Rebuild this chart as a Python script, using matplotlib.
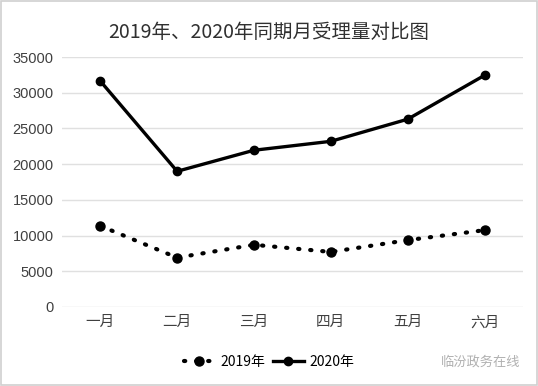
import matplotlib.pyplot as plt
from matplotlib.patches import Rectangle

plt.rcParams['font.family'] = ['Noto Sans CJK SC', 'DejaVu Sans']

months = ['一月', '二月', '三月', '四月', '五月', '六月']
values_2019 = [11350, 6900, 8700, 7700, 9350, 10750]
values_2020 = [31650, 19000, 21950, 23200, 26300, 32450]
y_ticks = [0, 5000, 10000, 15000, 20000, 25000, 30000, 35000]


def main():
    fig = plt.figure(figsize=(5.38, 3.86), dpi=100)
    ax = fig.add_axes([0.115, 0.205, 0.857, 0.647])

    x = range(len(months))
    ax.plot(x, values_2019, color='black', linestyle=(0, (0.3, 2.6)), linewidth=3,
            dash_capstyle='round', marker='o', markersize=6.5, label='2019年')
    ax.plot(x, values_2020, color='black', linestyle='-', linewidth=2.4,
            marker='o', markersize=6, label='2020年')

    ax.set_xlim(-0.5, len(months) - 0.5)
    ax.set_ylim(0, 35000)
    ax.set_yticks(y_ticks)
    ax.set_yticklabels([str(v) for v in y_ticks], fontsize=10.5, color='#404040',
                       family=['Liberation Sans', 'DejaVu Sans'])
    ax.set_xticks(list(x))
    ax.set_xticklabels(months, fontsize=10.5, color='#404040')
    ax.tick_params(length=0, pad=6)
    ax.grid(axis='y', color='#e0e0e0', linewidth=1)
    ax.set_axisbelow(True)
    for side in ['top', 'right', 'left', 'bottom']:
        ax.spines[side].set_visible(False)

    fig.text(0.5, 0.915, '2019年、2020年同期月受理量对比图', ha='center', va='center',
             fontsize=14, color='#303030', fontweight='light')

    fig.legend(loc='center', bbox_to_anchor=(0.5, 0.062), ncol=2, frameon=False,
               fontsize=10, handlelength=2.2, columnspacing=0.6, handletextpad=0.4)

    fig.text(0.968, 0.062, '临汾政务在线', ha='right', va='center', fontsize=9.5,
             color='#b0b0b0')

    fig.patches.append(Rectangle((0.002, 0.003), 0.996, 0.994, transform=fig.transFigure,
                                 fill=False, edgecolor='#d0d0d0', linewidth=1.2))

    fig.savefig('out.png', dpi=100)


if __name__ == "__main__":
    main()
